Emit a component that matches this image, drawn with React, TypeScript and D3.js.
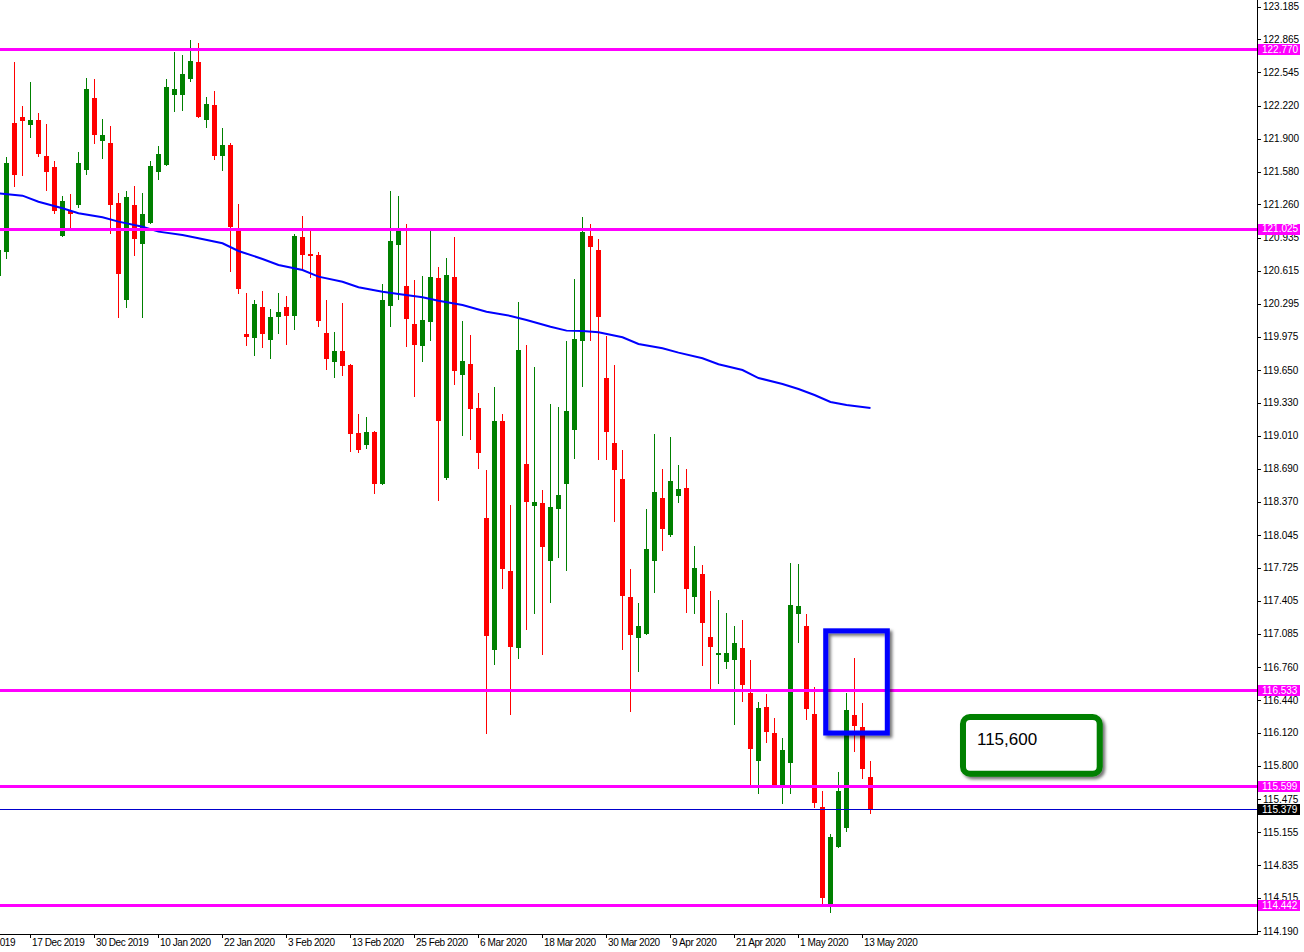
import React from "react";
import * as d3 from "d3";

// ---- data ----
// candles: [open, high, low, close], one per trading day, 11 Dec 2019 .. 14 May 2020
const candles: [number, number, number, number][] = [
  [120.574, 120.915, 120.477, 120.818],
  [120.811, 121.725, 120.743, 121.667],
  [122.056, 122.649, 121.443, 121.557],
  [122.111, 122.218, 121.547, 122.082],
  [122.043, 122.455, 121.92, 122.082],
  [122.082, 122.15, 121.732, 121.758],
  [121.732, 122.043, 121.401, 121.589],
  [121.628, 121.683, 121.18, 121.207],
  [120.963, 121.346, 120.954, 121.294],
  [121.194, 121.362, 121.044, 121.175],
  [121.265, 121.771, 121.239, 121.667],
  [121.605, 122.491, 121.557, 122.384],
  [122.296, 122.481, 121.861, 121.946],
  [121.888, 122.092, 121.715, 121.936],
  [121.858, 122.024, 120.98, 121.268],
  [121.275, 121.369, 120.163, 120.597],
  [120.344, 121.391, 120.266, 121.336],
  [121.255, 121.44, 120.769, 120.937],
  [120.889, 121.369, 120.163, 121.171],
  [121.09, 121.683, 121.077, 121.635],
  [121.589, 121.829, 121.508, 121.751],
  [121.657, 122.478, 121.644, 122.403],
  [122.338, 122.744, 122.173, 122.384],
  [122.338, 122.714, 122.179, 122.533],
  [122.494, 122.86, 122.464, 122.656],
  [122.646, 122.831, 122.111, 122.121],
  [122.095, 122.306, 122.014, 122.238],
  [122.228, 122.364, 121.706, 121.745],
  [121.745, 122.007, 121.599, 121.839],
  [121.839, 121.858, 120.616, 121.051],
  [121.002, 121.268, 120.402, 120.451],
  [120.0, 120.402, 119.893, 119.984],
  [119.974, 120.331, 119.799, 120.292],
  [120.263, 120.419, 119.877, 120.013],
  [119.955, 120.244, 119.77, 120.166],
  [120.178, 120.399, 120.013, 120.214],
  [120.263, 120.37, 119.906, 120.188],
  [120.188, 120.973, 120.052, 120.954],
  [120.944, 121.148, 120.642, 120.782],
  [120.779, 121.005, 120.558, 120.769],
  [120.769, 120.798, 120.081, 120.14],
  [120.01, 120.331, 119.663, 119.77],
  [119.741, 120.02, 119.585, 119.835],
  [119.835, 120.302, 119.604, 119.702],
  [119.699, 119.705, 118.865, 119.04],
  [119.037, 119.222, 118.855, 118.885],
  [118.933, 119.193, 118.894, 119.047],
  [119.047, 119.057, 118.457, 118.554],
  [118.554, 120.487, 118.544, 120.331],
  [120.285, 121.391, 120.081, 120.905],
  [120.879, 121.343, 120.344, 121.012],
  [120.467, 121.07, 119.887, 120.159],
  [120.098, 120.526, 119.4, 119.906],
  [119.896, 120.565, 119.741, 120.137],
  [120.13, 121.012, 119.945, 120.555],
  [120.545, 120.652, 118.386, 119.161],
  [118.612, 120.74, 118.593, 120.574],
  [120.555, 120.944, 119.517, 119.653],
  [119.614, 120.13, 119.021, 119.738],
  [119.709, 119.991, 118.982, 119.283],
  [119.28, 119.429, 118.7, 118.855],
  [118.211, 118.677, 116.116, 117.072],
  [116.936, 119.485, 116.793, 119.157],
  [119.157, 119.222, 117.532, 117.727],
  [117.695, 118.337, 116.301, 116.968],
  [116.959, 120.312, 116.852, 119.845],
  [118.736, 119.893, 117.128, 118.379],
  [118.34, 119.679, 117.289, 118.366],
  [118.356, 118.483, 116.89, 117.941],
  [117.805, 119.319, 117.396, 118.318],
  [118.311, 119.29, 117.834, 118.434],
  [118.554, 119.932, 117.708, 119.251],
  [119.079, 120.535, 118.797, 119.952],
  [119.945, 121.139, 119.497, 120.993],
  [120.954, 121.07, 119.945, 120.859],
  [120.818, 120.925, 118.787, 120.178],
  [119.572, 119.984, 118.787, 119.06],
  [118.94, 119.699, 118.184, 118.69],
  [118.59, 118.872, 116.939, 117.464],
  [117.442, 117.714, 116.336, 117.085],
  [117.056, 117.384, 116.725, 117.16],
  [117.095, 118.298, 117.082, 117.909],
  [117.805, 119.028, 117.494, 118.463],
  [118.405, 118.687, 117.902, 118.116],
  [118.058, 118.998, 118.038, 118.57],
  [118.437, 118.726, 118.366, 118.493],
  [118.502, 118.687, 117.299, 117.532],
  [117.455, 117.938, 117.289, 117.724],
  [117.666, 117.753, 116.781, 117.202],
  [117.053, 117.5, 116.534, 116.965],
  [116.888, 117.413, 116.608, 116.897],
  [116.822, 117.286, 116.754, 116.897],
  [116.842, 117.16, 116.21, 116.995],
  [116.946, 117.218, 116.433, 116.599],
  [116.511, 116.829, 115.626, 115.976],
  [115.859, 116.421, 115.538, 116.362],
  [116.372, 116.498, 116.034, 116.141],
  [116.119, 116.265, 115.597, 115.616],
  [115.606, 116.07, 115.441, 115.954],
  [115.84, 117.773, 115.538, 117.364],
  [117.289, 117.763, 117.007, 117.354],
  [117.16, 117.277, 116.258, 116.365],
  [116.304, 116.567, 115.402, 115.451],
  [115.399, 115.555, 114.446, 114.527],
  [114.459, 115.137, 114.381, 115.107],
  [115.023, 115.74, 115.01, 115.555],
  [115.208, 116.508, 115.169, 116.343],
  [116.294, 116.849, 115.947, 116.2],
  [116.177, 116.411, 115.684, 115.782],
  [115.691, 115.847, 115.344, 115.379],
];

// moving average (blue line), sampled at bar numbers
const maBars = [0, 3, 5, 8, 10, 13, 15, 18, 20, 23, 25, 28, 30, 33, 35, 38, 40, 43, 45, 48, 50, 53, 55, 58, 61, 64, 66, 69, 71, 73, 75, 78, 80, 83, 85, 88, 90, 93, 95, 98, 100, 102, 104, 106, 109];
const maValues = [121.369, 121.346, 121.287, 121.223, 121.175, 121.136, 121.093, 121.044, 120.996, 120.963, 120.931, 120.883, 120.808, 120.73, 120.672, 120.623, 120.558, 120.509, 120.455, 120.412, 120.39, 120.357, 120.324, 120.283, 120.217, 120.176, 120.137, 120.071, 120.033, 120.03, 120.017, 119.968, 119.903, 119.861, 119.819, 119.764, 119.706, 119.65, 119.572, 119.514, 119.465, 119.407, 119.339, 119.31, 119.28];

// horizontal levels
const levels = [122.77, 121.025, 116.533, 115.599, 114.442];
const currentPrice = 115.379;

// right axis tick labels
const priceTicks = [123.185, 122.865, 122.545, 122.22, 121.9, 121.58, 121.26, 120.935, 120.615, 120.295, 119.975, 119.65, 119.33, 119.01, 118.69, 118.37, 118.045, 117.725, 117.405, 117.085, 116.76, 116.44, 116.12, 115.8, 115.475, 115.155, 114.835, 114.515, 114.19];

// time axis labels (one every 8 bars, first one before the first candle)
const dateLabels = ["5 Dec 2019", "17 Dec 2019", "30 Dec 2019", "10 Jan 2020", "22 Jan 2020", "3 Feb 2020", "13 Feb 2020", "25 Feb 2020", "6 Mar 2020", "18 Mar 2020", "30 Mar 2020", "9 Apr 2020", "21 Apr 2020", "1 May 2020", "13 May 2020"];
const firstLabelBar = -4;
const labelStep = 8;

// annotations, in bar / price units
const blueBox = { bar0: 103.4, bar1: 111.1, p0: 117.113, p1: 116.119 };
const greenBox = { bar0: 120.56, bar1: 137.65, p0: 116.275, p1: 115.723, text: "115,600" };

const W = 1304;
const H = 952;
const plotRight = 1257;
const plotBottom = 934;

const UP = "#008000";
const DOWN = "#ff0000";
const MAGENTA = "#ff00ff";
const FONT = "'Liberation Sans', Arial, sans-serif";

export default function App() {
  const x = d3.scaleLinear().domain([0, 109]).range([-1.5, 870.5]);
  const y = d3.scaleLinear().domain([114.164, 123.249]).range([plotBottom, 0]);

  const maLine = d3
    .line<number>()
    .x((_, i) => x(maBars[i]))
    .y((v) => y(v));

  const px = (v: number) => Math.round(v);

  return (
    <svg
      width={W}
      height={H}
      style={{ position: "absolute", left: 0, top: 0, display: "block", background: "#fff" }}
      fontFamily={FONT}
    >
      <defs>
        <clipPath id="plot">
          <rect x={0} y={0} width={plotRight} height={plotBottom} />
        </clipPath>
        <filter id="shadow" x="-20%" y="-20%" width="140%" height="140%">
          <feDropShadow dx="2.5" dy="2.5" stdDeviation="1.6" floodColor="#000" floodOpacity="0.55" />
        </filter>
      </defs>
      <rect x={0} y={0} width={W} height={H} fill="#fff" />

      <g clipPath="url(#plot)">
        {/* candles */}
        <g shapeRendering="crispEdges">
          {candles.map(([o, h, l, c], i) => {
            const cx = Math.floor(x(i));
            const up = c >= o;
            const col = up ? UP : DOWN;
            const top = px(y(Math.max(o, c)));
            const bot = px(y(Math.min(o, c)));
            const hi = px(y(h));
            const lo = px(y(l));
            return (
              <g key={i}>
                <rect x={cx} y={hi} width={1} height={Math.max(1, lo - hi + 1)} fill={col} />
                <rect x={cx - 2} y={top} width={5} height={Math.max(1, bot - top + 1)} fill={col} />
              </g>
            );
          })}
        </g>

        {/* moving average */}
        <path d={maLine(maValues) || ""} fill="none" stroke="#0000ff" strokeWidth={2} />

        {/* level lines */}
        <g shapeRendering="crispEdges">
          {levels.map((lv) => (
            <rect key={lv} x={0} y={px(y(lv)) - 1} width={plotRight} height={3} fill={MAGENTA} />
          ))}
          <rect x={0} y={px(y(currentPrice))} width={plotRight} height={1} fill="#0000cd" />
        </g>

        {/* blue highlight rectangle */}
        <rect
          x={x(blueBox.bar0)}
          y={y(blueBox.p0)}
          width={x(blueBox.bar1) - x(blueBox.bar0)}
          height={y(blueBox.p1) - y(blueBox.p0)}
          fill="none"
          stroke="#0000ff"
          strokeWidth={5}
          filter="url(#shadow)"
        />

        {/* green label box */}
        <rect
          x={x(greenBox.bar0)}
          y={y(greenBox.p0)}
          width={x(greenBox.bar1) - x(greenBox.bar0)}
          height={y(greenBox.p1) - y(greenBox.p0)}
          rx={7}
          ry={7}
          fill="#fff"
          stroke="#008000"
          strokeWidth={6}
          filter="url(#shadow)"
        />
        <text
          x={x(greenBox.bar0) + 14}
          y={y(greenBox.p0) + 28}
          fontSize={17}
          fill="#000"
          fontFamily={FONT}
        >
          {greenBox.text}
        </text>
      </g>

      {/* axes */}
      <g shapeRendering="crispEdges">
        <rect x={plotRight} y={0} width={1} height={plotBottom + 1} fill="#000" />
        <rect x={0} y={plotBottom} width={plotRight + 1} height={1} fill="#000" />
        {priceTicks.map((t) => (
          <rect key={t} x={plotRight + 1} y={px(y(t))} width={3} height={1} fill="#000" />
        ))}
        {dateLabels.map((d, k) => {
          const bx = Math.floor(x(firstLabelBar + k * labelStep));
          return <rect key={d} x={bx} y={plotBottom + 1} width={1} height={3} fill="#000" />;
        })}
      </g>

      {priceTicks.map((t) => (
        <text key={t} x={1263} y={y(t)} dy="0.35em" fontSize={10} fill="#000">
          {t.toFixed(3)}
        </text>
      ))}

      {dateLabels.map((d, k) => {
        const bx = Math.floor(x(firstLabelBar + k * labelStep));
        return (
          <text
            key={d}
            x={bx + 2}
            y={plotBottom + 12}
            fontSize={10}
            letterSpacing={-0.4}
            fill="#000"
          >
            {d}
          </text>
        );
      })}

      {/* highlighted price labels */}
      {levels.map((lv) => (
        <g key={"l" + lv}>
          <rect x={1258} y={px(y(lv)) - 5} width={42} height={11} fill={MAGENTA} shapeRendering="crispEdges" />
          <text x={1262} y={y(lv)} dy="0.35em" fontSize={10} fill="#fff">
            {lv.toFixed(3)}
          </text>
        </g>
      ))}
      <rect x={1258} y={px(y(currentPrice)) - 5} width={42} height={11} fill="#000" shapeRendering="crispEdges" />
      <text x={1262} y={y(currentPrice)} dy="0.35em" fontSize={10} fill="#fff">
        {currentPrice.toFixed(3)}
      </text>
    </svg>
  );
}
